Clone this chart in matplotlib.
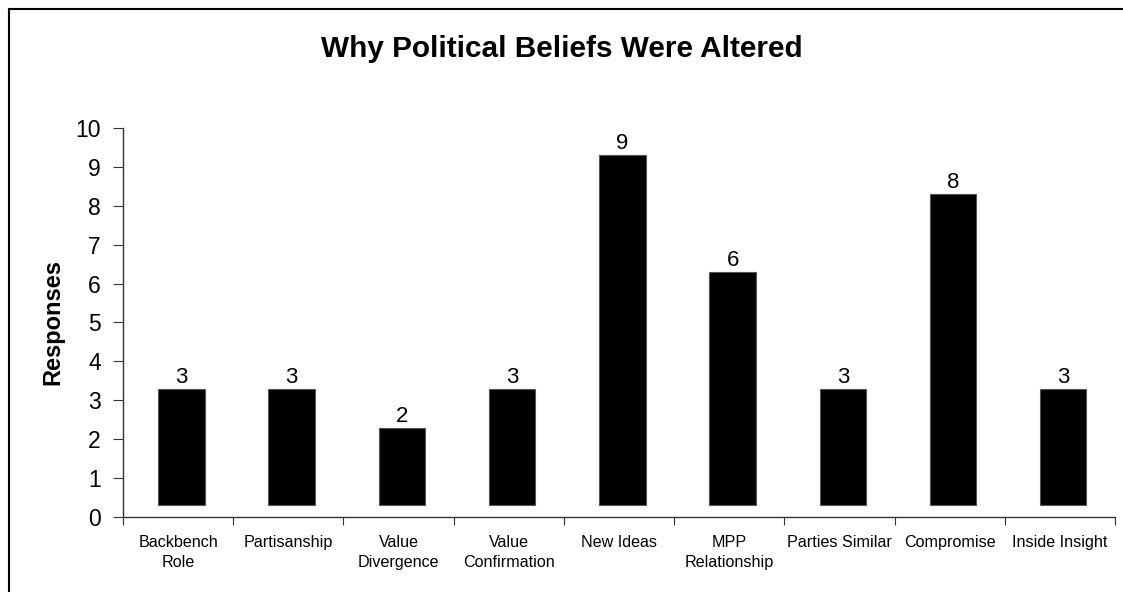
import matplotlib.pyplot as plt
from matplotlib.lines import Line2D

plt.rcParams['font.family'] = ['Liberation Sans', 'DejaVu Sans']

categories = ['Backbench\nRole', 'Partisanship', 'Value\nDivergence', 'Value\nConfirmation',
              'New Ideas', 'MPP\nRelationship', 'Parties Similar', 'Compromise', 'Inside Insight']
responses = [3, 3, 2, 3, 9, 6, 3, 8, 3]

# bars sit on a raised floor, like the old Excel column style
floor = 0.3

fig = plt.figure(figsize=(11.23, 5.92), dpi=100)
ax = fig.add_axes([0.1095, 0.1267, 0.8835, 0.6571])

x = [i + 0.53 for i in range(len(categories))]
bars = ax.bar(x, responses, width=0.42, bottom=floor, color='black',
              edgecolor='#555555', linewidth=0.8)
for rect, v in zip(bars, responses):
    ax.text(rect.get_x() + rect.get_width() / 2, v + floor + 0.02, str(v),
            ha='center', va='bottom', fontsize=16)

ax.set_xlim(0, len(categories))
ax.set_ylim(0, 10)
ax.set_yticks(range(0, 11))
ax.set_xticks(range(0, len(categories) + 1))
ax.set_xticklabels([])
ax.set_xticks([i + 0.5 for i in range(len(categories))], minor=True)
ax.set_xticklabels(categories, minor=True, fontsize=11.6, linespacing=1.4)
ax.tick_params(axis='x', which='minor', length=0, pad=13)
ax.tick_params(axis='x', which='major', direction='out', length=6, color='#333333')
ax.tick_params(axis='y', direction='out', length=7, color='#333333', labelsize=16.5, pad=9)
for lbl in ax.get_xticklabels(minor=True):
    lbl.set_verticalalignment('top')

for s in ['top', 'right']:
    ax.spines[s].set_visible(False)
for s in ['left', 'bottom']:
    ax.spines[s].set_color('#333333')
    ax.spines[s].set_linewidth(1)

ax.set_ylabel('Responses', fontsize=17, fontweight='bold', labelpad=8)

fig.text(0.500, 0.918, 'Why Political Beliefs Were Altered', ha='center', va='center',
         fontsize=21.4, fontweight='bold')

# outer frame (left and top edges)
fig.add_artist(Line2D([9 / 1123, 9 / 1123], [0, 1 - 9 / 592], transform=fig.transFigure,
                      color='black', linewidth=1.5))
fig.add_artist(Line2D([9 / 1123, 1], [1 - 9 / 592, 1 - 9 / 592], transform=fig.transFigure,
                      color='black', linewidth=1.5))

fig.savefig('out.png', dpi=100)
